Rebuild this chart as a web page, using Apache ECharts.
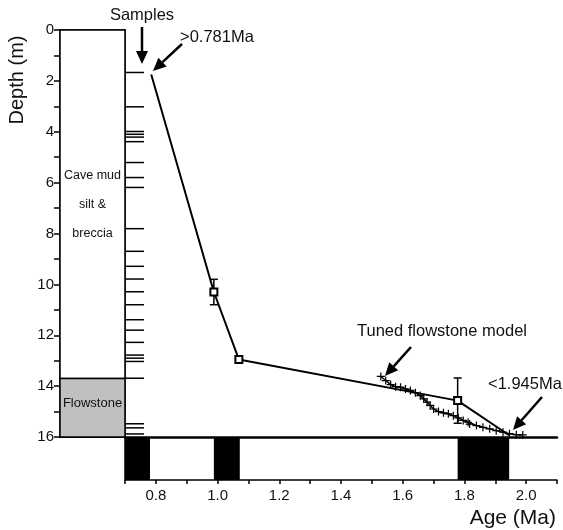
<!DOCTYPE html>
<html>
<head>
<meta charset="utf-8">
<script src="https://cdn.jsdelivr.net/npm/echarts@6/dist/echarts.min.js"></script>
<style>
  html, body { margin: 0; padding: 0; background: #fff; }
  #main { width: 563px; height: 530px; }
</style>
</head>
<body>
<div id="main"></div>
<script>
// lithology column
var unitNames = ['Cave mud\nsilt &\nbreccia', 'Flowstone'];
var unitTop = [0, 13.7];
var unitBottom = [13.7, 16];
var unitColors = ['#ffffff', '#c0c0c0'];

// sample depths (m)
var sampleDepths = [1.67, 3.02, 3.99, 4.1, 4.21, 4.39, 5.21, 5.8, 6.19, 7.81, 8.7, 9.29, 9.79,
  10.29, 10.8, 11.39, 11.8, 12.28, 12.78, 12.9, 13.03, 13.69, 15.48, 15.64, 15.88];

// age model (Ma) vs depth (m)
var mainAge = [0.785, 0.988, 1.069, 1.778, 1.945];
var mainDepth = [1.75, 10.3, 12.95, 14.57, 15.93];
var mainSymbol = ['none', 'emptyRect', 'emptyRect', 'emptyRect', 'none'];

// error bars
var errAge = [0.988, 1.778];
var errTop = [9.8, 13.68];
var errBottom = [10.8, 15.46];

// tuned flowstone model
var tunedAge = [1.529, 1.545, 1.561, 1.577, 1.593, 1.609, 1.625, 1.641, 1.657, 1.668, 1.679, 1.689,
  1.7, 1.716, 1.732, 1.748, 1.764, 1.78, 1.796, 1.812, 1.817, 1.839, 1.86, 1.882, 1.903, 1.925,
  1.946, 1.968, 1.989];
var tunedDepth = [13.62, 13.78, 13.94, 14.02, 14.04, 14.11, 14.17, 14.26, 14.37, 14.5, 14.63, 14.76,
  14.9, 15.0, 15.05, 15.09, 15.16, 15.25, 15.35, 15.42, 15.49, 15.55, 15.62, 15.68, 15.75, 15.81,
  15.87, 15.91, 15.92];

// normal polarity chrons (Ma)
var chronStart = [0.7, 0.988, 1.778];
var chronEnd = [0.781, 1.072, 1.945];

var FONT = 'Liberation Sans, Arial, sans-serif';
var INK = '#111';

function arrow(x1, y1, x2, y2) {
  var dx = x2 - x1, dy = y2 - y1;
  var len = Math.sqrt(dx * dx + dy * dy);
  var ux = dx / len, uy = dy / len;
  var hl = 13, hw = 6;
  var bx = x2 - ux * hl, by = y2 - uy * hl;
  return [
    { type: 'line', shape: { x1: x1, y1: y1, x2: bx, y2: by }, style: { stroke: '#000', lineWidth: 2.5 } },
    { type: 'polygon', shape: { points: [[x2, y2], [bx - uy * hw, by + ux * hw], [bx + uy * hw, by - ux * hw]] }, style: { fill: '#000' } }
  ];
}

var myChart = echarts.init(document.getElementById('main'));

var plusSym = 'path://M-0.6,-4H0.6V-0.6H4V0.6H0.6V4H-0.6V0.6H-4V-0.6H-0.6Z';

var graphics = [
  { type: 'text', x: 17, y: 80, rotation: Math.PI / 2, style: { text: 'Depth (m)', font: '20px ' + FONT, fill: INK, align: 'center', verticalAlign: 'middle' } },
  { type: 'text', x: 556, y: 518, style: { text: 'Age (Ma)', font: '21px ' + FONT, fill: INK, align: 'right', verticalAlign: 'middle' } },
  { type: 'text', x: 142, y: 15, style: { text: 'Samples', font: '16.5px ' + FONT, fill: INK, align: 'center', verticalAlign: 'middle' } },
  { type: 'text', x: 180, y: 37, style: { text: '>0.781Ma', font: '16.5px ' + FONT, fill: INK, align: 'left', verticalAlign: 'middle' } },
  { type: 'text', x: 527, y: 331, style: { text: 'Tuned flowstone model', font: '16.5px ' + FONT, fill: INK, align: 'right', verticalAlign: 'middle' } },
  { type: 'text', x: 488, y: 384, style: { text: '<1.945Ma', font: '16.5px ' + FONT, fill: INK, align: 'left', verticalAlign: 'middle' } }
].concat(arrow(142, 27, 142, 64))
 .concat(arrow(182, 44, 153, 71))
 .concat(arrow(411, 347, 385, 376))
 .concat(arrow(542, 397, 513, 430));

var option = {
  animation: false,
  backgroundColor: '#fff',
  grid: [
    { left: 60, top: 30, width: 65, height: 407 },
    { left: 125, top: 30, width: 432, height: 407 },
    { left: 125, top: 437, width: 432, height: 43 }
  ],
  xAxis: [
    { gridIndex: 0, type: 'value', min: 0, max: 1, position: 'bottom',
      axisLine: { show: true, onZero: false, lineStyle: { color: '#000', width: 2 } },
      axisTick: { show: false }, axisLabel: { show: false }, splitLine: { show: false } },
    { gridIndex: 0, type: 'value', min: 0, max: 1, position: 'top',
      axisLine: { show: true, onZero: false, lineStyle: { color: '#000', width: 1.5 } },
      axisTick: { show: false }, axisLabel: { show: false }, splitLine: { show: false } },
    { gridIndex: 1, type: 'value', min: 0.7, max: 2.1, show: false },
    { gridIndex: 2, type: 'value', min: 0.7, max: 2.1, interval: 0.1, position: 'bottom',
      axisLine: { show: true, onZero: false, lineStyle: { color: '#000', width: 1.5 } },
      axisTick: { show: true, length: 4, lineStyle: { color: '#000', width: 1.5 } },
      axisLabel: { margin: 8, color: INK, fontSize: 15, fontFamily: FONT,
        formatter: function (v) { var k = Math.round(v * 10); return k % 2 === 0 ? (k / 10).toFixed(1) : ''; } },
      splitLine: { show: false } },
    { gridIndex: 2, type: 'value', min: 0.7, max: 2.1, position: 'top',
      axisLine: { show: true, onZero: false, lineStyle: { color: '#000', width: 2.5 } },
      axisTick: { show: false }, axisLabel: { show: false }, splitLine: { show: false } }
  ],
  yAxis: [
    { gridIndex: 0, type: 'value', inverse: true, min: 0, max: 16, interval: 1, position: 'left',
      axisLine: { show: true, onZero: false, lineStyle: { color: '#000', width: 1.5 } },
      axisTick: { show: true, length: 6, lineStyle: { color: '#000', width: 1.5 } },
      axisLabel: { margin: 6, color: INK, fontSize: 15, fontFamily: FONT,
        formatter: function (v) { return v % 2 === 0 ? String(v) : ''; } },
      splitLine: { show: false } },
    { gridIndex: 0, type: 'value', inverse: true, min: 0, max: 16, position: 'right',
      axisLine: { show: true, onZero: false, lineStyle: { color: '#000', width: 1.5 } },
      axisTick: { show: false }, axisLabel: { show: false }, splitLine: { show: false } },
    { gridIndex: 1, type: 'value', inverse: true, min: 0, max: 16, show: false },
    { gridIndex: 2, type: 'value', min: 0, max: 1, position: 'left',
      axisLine: { show: true, onZero: false, lineStyle: { color: '#000', width: 1.5 } },
      axisTick: { show: false }, axisLabel: { show: false }, splitLine: { show: false } }
  ],
  series: [
    {
      type: 'custom', xAxisIndex: 0, yAxisIndex: 0,
      data: unitTop.map(function (t, i) { return [0, t, unitBottom[i]]; }),
      encode: { x: 0, y: 1 },
      renderItem: function (params, api) {
        var i = params.dataIndex;
        var a = api.coord([0, api.value(1)]);
        var b = api.coord([1, api.value(2)]);
        return {
          type: 'group',
          children: [
            { type: 'rect', shape: { x: a[0], y: a[1], width: b[0] - a[0], height: b[1] - a[1] },
              style: { fill: unitColors[i], stroke: '#000', lineWidth: 1.5 } },
            { type: 'text', x: (a[0] + b[0]) / 2, y: (a[1] + b[1]) / 2 - (i === 1 ? 4 : 0),
              style: { text: unitNames[i], align: 'center', verticalAlign: 'middle',
                font: (i === 1 ? '13px ' : '12.5px ') + FONT, lineHeight: 29, fill: INK } }
          ]
        };
      }
    },
    {
      type: 'custom', xAxisIndex: 2, yAxisIndex: 2,
      data: sampleDepths.map(function (d) { return [0.7, d]; }),
      encode: { x: 0, y: 1 },
      renderItem: function (params, api) {
        var p = api.coord([api.value(0), api.value(1)]);
        return { type: 'line', shape: { x1: p[0], y1: p[1], x2: p[0] + 19, y2: p[1] },
          style: { stroke: '#000', lineWidth: 1.5 } };
      }
    },
    {
      type: 'custom', xAxisIndex: 2, yAxisIndex: 2,
      data: errAge.map(function (a, i) { return [a, errTop[i], errBottom[i]]; }),
      encode: { x: 0, y: [1, 2] },
      renderItem: function (params, api) {
        var t = api.coord([api.value(0), api.value(1)]);
        var b = api.coord([api.value(0), api.value(2)]);
        var s = { stroke: '#000', lineWidth: 1.5 };
        return {
          type: 'group',
          children: [
            { type: 'line', shape: { x1: t[0], y1: t[1], x2: b[0], y2: b[1] }, style: s },
            { type: 'line', shape: { x1: t[0] - 4, y1: t[1], x2: t[0] + 4, y2: t[1] }, style: s },
            { type: 'line', shape: { x1: b[0] - 4, y1: b[1], x2: b[0] + 4, y2: b[1] }, style: s }
          ]
        };
      }
    },
    {
      type: 'line', xAxisIndex: 2, yAxisIndex: 2,
      data: tunedAge.map(function (a, i) { return [a, tunedDepth[i]]; }),
      symbol: plusSym, symbolSize: 8,
      itemStyle: { color: '#000' },
      lineStyle: { color: '#000', width: 1.5 },
      z: 3
    },
    {
      type: 'line', xAxisIndex: 2, yAxisIndex: 2,
      data: mainAge.map(function (a, i) { return { value: [a, mainDepth[i]], symbol: mainSymbol[i] }; }),
      symbolSize: 7,
      itemStyle: { color: '#000', borderColor: '#000', borderWidth: 1.5 },
      lineStyle: { color: '#000', width: 2 },
      z: 4
    },
    {
      type: 'custom', xAxisIndex: 3, yAxisIndex: 3,
      data: chronStart.map(function (s, i) { return [s, 0, chronEnd[i]]; }),
      encode: { x: [0, 2], y: 1 },
      renderItem: function (params, api) {
        var a = api.coord([api.value(0), 1]);
        var b = api.coord([api.value(2), 0]);
        return { type: 'rect', shape: { x: a[0], y: a[1], width: b[0] - a[0], height: b[1] - a[1] },
          style: { fill: '#000' } };
      }
    }
  ],
  graphic: graphics
};

myChart.setOption(option);
</script>
</body>
</html>
